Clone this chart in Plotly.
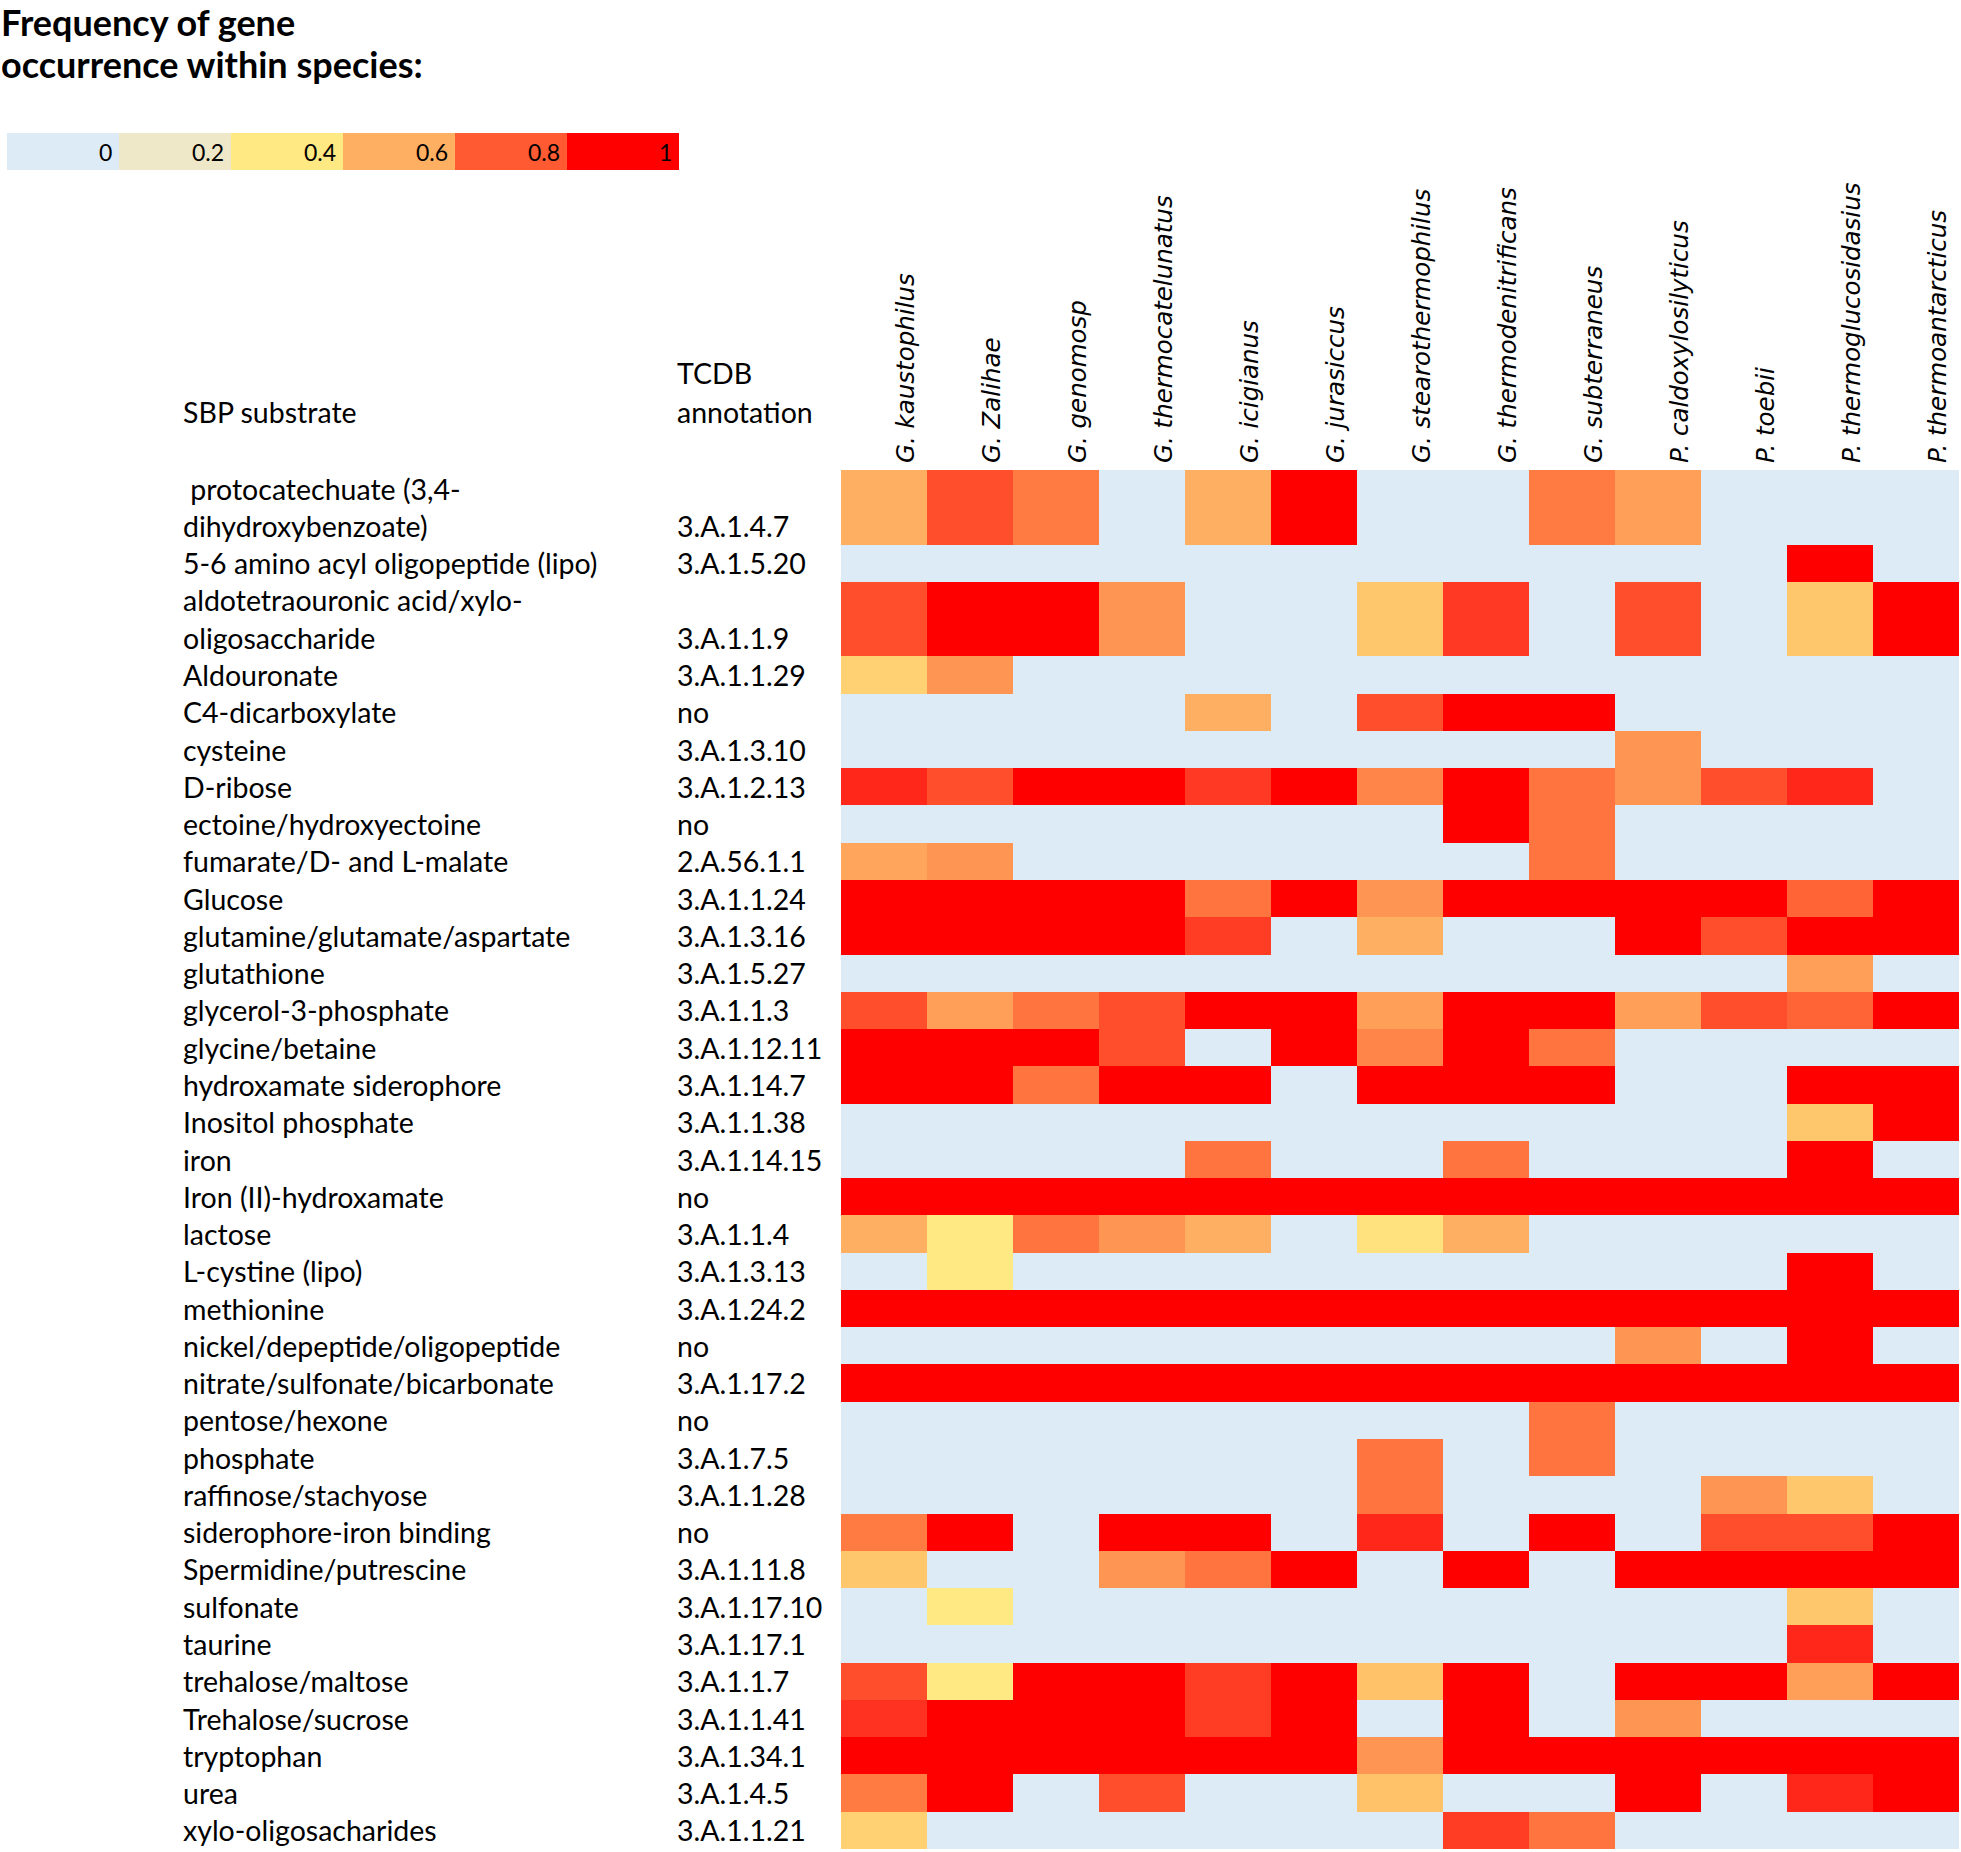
import plotly.graph_objects as go

W, H = 1961, 1852


def px(x):
    return x / W


def py(y):
    return 1 - y / H


species = [
    "G. kaustophilus", "G. Zalihae", "G. genomosp", "G. thermocatelunatus",
    "G. icigianus", "G. jurasiccus", "G. stearothermophilus",
    "G. thermodenitrificans", "G. subterraneus", "P. caldoxylosilyticus",
    "P. toebii", "P. thermoglucosidasius", "P. thermoantarcticus",
]

substrate_lines = [
    ["\u00a0protocatechuate (3,4-", "dihydroxybenzoate)"],
    ["5-6 amino acyl oligopeptide (lipo)"],
    ["aldotetraouronic acid/xylo-", "oligosaccharide"],
    ["Aldouronate"],
    ["C4-dicarboxylate"],
    ["cysteine"],
    ["D-ribose"],
    ["ectoine/hydroxyectoine"],
    ["fumarate/D- and L-malate"],
    ["Glucose"],
    ["glutamine/glutamate/aspartate"],
    ["glutathione"],
    ["glycerol-3-phosphate"],
    ["glycine/betaine"],
    ["hydroxamate siderophore"],
    ["Inositol phosphate"],
    ["iron"],
    ["Iron (II)-hydroxamate"],
    ["lactose"],
    ["L-cystine (lipo)"],
    ["methionine"],
    ["nickel/depeptide/oligopeptide"],
    ["nitrate/sulfonate/bicarbonate"],
    ["pentose/hexone"],
    ["phosphate"],
    ["raffinose/stachyose"],
    ["siderophore-iron binding"],
    ["Spermidine/putrescine"],
    ["sulfonate"],
    ["taurine"],
    ["trehalose/maltose"],
    ["Trehalose/sucrose"],
    ["tryptophan"],
    ["urea"],
    ["xylo-oligosacharides"],
]

tcdb = [
    "3.A.1.4.7", "3.A.1.5.20", "3.A.1.1.9", "3.A.1.1.29", "no", "3.A.1.3.10",
    "3.A.1.2.13", "no", "2.A.56.1.1", "3.A.1.1.24", "3.A.1.3.16", "3.A.1.5.27",
    "3.A.1.1.3", "3.A.1.12.11", "3.A.1.14.7", "3.A.1.1.38", "3.A.1.14.15", "no",
    "3.A.1.1.4", "3.A.1.3.13", "3.A.1.24.2", "no", "3.A.1.17.2", "no",
    "3.A.1.7.5", "3.A.1.1.28", "no", "3.A.1.11.8", "3.A.1.17.10", "3.A.1.17.1",
    "3.A.1.1.7", "3.A.1.1.41", "3.A.1.34.1", "3.A.1.4.5", "3.A.1.1.21",
]

freq = [
    [0.6, 0.83, 0.7, 0, 0.6, 1, 0, 0, 0.7, 0.63, 0, 0, 0],
    [0, 0, 0, 0, 0, 0, 0, 0, 0, 0, 0, 1, 0],
    [0.83, 1, 1, 0.65, 0, 0, 0.5, 0.88, 0, 0.83, 0, 0.5, 1],
    [0.47, 0.65, 0, 0, 0, 0, 0, 0, 0, 0, 0, 0, 0],
    [0, 0, 0, 0, 0.6, 0, 0.83, 1, 1, 0, 0, 0, 0],
    [0, 0, 0, 0, 0, 0, 0, 0, 0, 0.65, 0, 0, 0],
    [0.92, 0.83, 1, 1, 0.88, 1, 0.68, 1, 0.72, 0.65, 0.83, 0.92, 0],
    [0, 0, 0, 0, 0, 0, 0, 1, 0.72, 0, 0, 0, 0],
    [0.62, 0.65, 0, 0, 0, 0, 0, 0, 0.72, 0, 0, 0, 0],
    [1, 1, 1, 1, 0.72, 1, 0.65, 1, 1, 1, 1, 0.77, 1],
    [1, 1, 1, 1, 0.87, 0, 0.6, 0, 0, 1, 0.83, 1, 1],
    [0, 0, 0, 0, 0, 0, 0, 0, 0, 0, 0, 0.63, 0],
    [0.83, 0.63, 0.72, 0.83, 1, 1, 0.63, 1, 1, 0.63, 0.83, 0.77, 1],
    [1, 1, 1, 0.83, 0, 1, 0.68, 1, 0.72, 0, 0, 0, 0],
    [1, 1, 0.72, 1, 1, 0, 1, 1, 1, 0, 0, 1, 1],
    [0, 0, 0, 0, 0, 0, 0, 0, 0, 0, 0, 0.5, 1],
    [0, 0, 0, 0, 0.72, 0, 0, 0.72, 0, 0, 0, 1, 0],
    [1, 1, 1, 1, 1, 1, 1, 1, 1, 1, 1, 1, 1],
    [0.6, 0.4, 0.72, 0.65, 0.6, 0, 0.42, 0.6, 0, 0, 0, 0, 0],
    [0, 0.4, 0, 0, 0, 0, 0, 0, 0, 0, 0, 1, 0],
    [1, 1, 1, 1, 1, 1, 1, 1, 1, 1, 1, 1, 1],
    [0, 0, 0, 0, 0, 0, 0, 0, 0, 0.65, 0, 1, 0],
    [1, 1, 1, 1, 1, 1, 1, 1, 1, 1, 1, 1, 1],
    [0, 0, 0, 0, 0, 0, 0, 0, 0.72, 0, 0, 0, 0],
    [0, 0, 0, 0, 0, 0, 0.72, 0, 0.72, 0, 0, 0, 0],
    [0, 0, 0, 0, 0, 0, 0.72, 0, 0, 0, 0.65, 0.5, 0],
    [0.7, 1, 0, 1, 1, 0, 0.92, 0, 1, 0, 0.83, 0.83, 1],
    [0.5, 0, 0, 0.65, 0.72, 1, 0, 1, 0, 1, 1, 1, 1],
    [0, 0.4, 0, 0, 0, 0, 0, 0, 0, 0, 0, 0.5, 0],
    [0, 0, 0, 0, 0, 0, 0, 0, 0, 0, 0, 0.92, 0],
    [0.83, 0.4, 1, 1, 0.87, 1, 0.52, 1, 0, 1, 1, 0.63, 1],
    [0.9, 1, 1, 1, 0.87, 1, 0, 1, 0, 0.65, 0, 0, 0],
    [1, 1, 1, 1, 1, 1, 0.65, 1, 1, 1, 1, 1, 1],
    [0.7, 1, 0, 0.83, 0, 0, 0.52, 0, 0, 1, 0, 0.92, 1],
    [0.47, 0, 0, 0, 0, 0, 0, 0.87, 0.72, 0, 0, 0, 0],
]

legend_values = [0, 0.2, 0.4, 0.6, 0.8, 1]
legend_labels = ["0", "0.2", "0.4", "0.6", "0.8", "1"]

title_lines = ["Frequency of gene", "occurrence within species:"]
header_substrate = "SBP substrate"
header_tcdb = ["TCDB", "annotation"]

colorscale = [
    [0.0, "#DDEBF7"],
    [0.2, "#EEE8C8"],
    [0.4, "#FFE982"],
    [0.5, "#FFC76B"],
    [0.6, "#FFAF62"],
    [0.7, "#FF7B42"],
    [0.8, "#FF5A31"],
    [0.9, "#FF3120"],
    [1.0, "#FF0000"],
]

TEXT_FONT = "Lato"
SPECIES_FONT = "DejaVu Sans"

# row edges in units of one text line
edges = [0]
for lines in substrate_lines:
    edges.append(edges[-1] + len(lines))
total_units = edges[-1]

heat_top, heat_bottom = 470, 1849
heat_left, heat_right = 841, 1959

fig = go.Figure()
fig.add_trace(go.Heatmap(
    z=freq, x=species, y=edges,
    colorscale=colorscale, zmin=0, zmax=1, showscale=False,
    xaxis="x", yaxis="y", hoverinfo="skip",
))
fig.add_trace(go.Heatmap(
    z=[legend_values], x=list(range(len(legend_values) + 1)), y=[0, 1],
    colorscale=colorscale, zmin=0, zmax=1, showscale=False,
    xaxis="x2", yaxis="y2", hoverinfo="skip",
))

annotations = []
row_font = dict(family=TEXT_FONT, size=28.5, color="#000000")
for i, lines in enumerate(substrate_lines):
    top = edges[i]
    for j, line in enumerate(lines):
        annotations.append(dict(
            text=line, xref="paper", yref="y", x=px(181), y=top + j + 0.5,
            xanchor="left", yanchor="middle", showarrow=False, font=row_font,
        ))
    annotations.append(dict(
        text=tcdb[i], xref="paper", yref="y", x=px(675), y=edges[i + 1] - 0.5,
        xanchor="left", yanchor="middle", showarrow=False, font=row_font,
    ))

# headers
annotations.append(dict(
    text=header_substrate, xref="paper", yref="paper", x=px(181), y=py(412),
    xanchor="left", yanchor="middle", showarrow=False, font=row_font,
))
for k, t in enumerate(header_tcdb):
    annotations.append(dict(
        text=t, xref="paper", yref="paper", x=px(675), y=py(373 + 39 * k),
        xanchor="left", yanchor="middle", showarrow=False, font=row_font,
    ))

# title
for k, t in enumerate(title_lines):
    annotations.append(dict(
        text="<b>" + t + "</b>", xref="paper", yref="paper", x=0, y=py(22 + 42 * k),
        xanchor="left", yanchor="middle", showarrow=False, borderpad=0,
        font=dict(family=TEXT_FONT, size=36, color="#000000"),
    ))

# legend labels
for k, t in enumerate(legend_labels):
    annotations.append(dict(
        text=t, xref="x2", yref="y2", x=k + 0.955, y=0.5,
        xanchor="right", yanchor="middle", showarrow=False,
        font=dict(family=TEXT_FONT, size=23, color="#000000"),
    ))

fig.update_layout(
    width=W, height=H,
    margin=dict(l=0, r=0, t=0, b=0),
    paper_bgcolor="white", plot_bgcolor="white",
    xaxis=dict(
        domain=[px(heat_left), px(heat_right)], side="top", tickangle=-90,
        showgrid=False, zeroline=False, ticks="", showline=False,
        tickfont=dict(family=SPECIES_FONT, size=24.5, style="italic", color="#000000"),
        ticklabelshift=22, ticklabelstandoff=6,
        anchor="y",
    ),
    yaxis=dict(
        domain=[py(heat_bottom), py(heat_top)], range=[total_units, 0],
        showgrid=False, zeroline=False, showticklabels=False, ticks="",
        anchor="x",
    ),
    xaxis2=dict(
        domain=[px(7), px(679)], range=[0, len(legend_values)],
        showgrid=False, zeroline=False, showticklabels=False, ticks="",
        anchor="y2",
    ),
    yaxis2=dict(
        domain=[py(170), py(133)], range=[0, 1],
        showgrid=False, zeroline=False, showticklabels=False, ticks="",
        anchor="x2",
    ),
    annotations=annotations,
)

fig.write_html(
    "out.html",
    config={"displayModeBar": False},
    post_script="document.body.style.margin='0px';",
)
